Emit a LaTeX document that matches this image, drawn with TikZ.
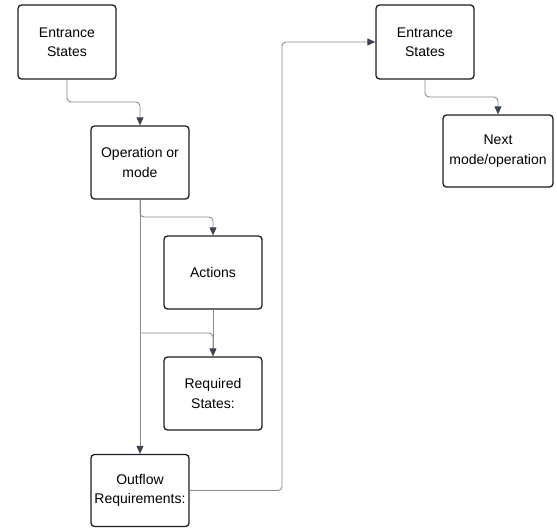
\documentclass[tikz,border=0pt]{standalone}
\usepackage{fontspec}
\setmainfont{Liberation Sans}
\usetikzlibrary{arrows.meta}
\definecolor{boxline}{HTML}{1E1E1E}
\definecolor{wire}{HTML}{8C8C8C}
\definecolor{tipcol}{HTML}{3B4250}
\tikzset{
  stepbox/.style={draw=boxline, line width=1.3pt, rounded corners=3.5pt,
    align=center, inner sep=0pt, fill=white,
    font=\fontsize{14}{19.5}\selectfont},
  wirearrow/.style={draw=wire, line width=0.9pt, rounded corners=4pt,
    -{Triangle[length=8pt,width=7pt,color=tipcol]}},
  wireplain/.style={draw=wire, line width=0.9pt, rounded corners=4pt}
}
\begin{document}
\begin{tikzpicture}[x=1pt,y=-1pt]
\useasboundingbox (0,0) rectangle (557,528);

% boxes
\node[stepbox, minimum width=98pt, minimum height=74pt] (es1) at (67,42) {Entrance\\States};
\node[stepbox, minimum width=98pt, minimum height=73pt] (op) at (140,162.5) {Operation or\\mode};
\node[stepbox, minimum width=98pt, minimum height=73pt] (act) at (213,272.5) {Actions};
\node[stepbox, minimum width=98pt, minimum height=73pt] (req) at (213,393.5) {Required\\States:};
\node[stepbox, minimum width=98pt, minimum height=72pt] (out) at (140,490.5) {Outflow\\Requirements:};
\node[stepbox, minimum width=98pt, minimum height=74pt] (es2) at (425,42) {Entrance\\States};
\node[stepbox, minimum width=110pt, minimum height=72pt] (nx) at (498,151) {Next\\mode/operation};

% junction on the trunk below the operation box
\coordinate (j2) at (140,333);

% connectors
\draw[wirearrow] (es1.south) -- (67,102) -| (op.north);
\draw[wirearrow] (op.south) -- (140,217) -| (act.north);
\draw[wirearrow] (op.south) -- (out.north);
\draw[wireplain] (j2) -| (req.north);
\draw[wirearrow] (act.south) -- (req.north);
\draw[wirearrow] (out.east) -- (282,490.5) |- (es2.west);
\draw[wirearrow] (es2.south) -- (425,97) -| (nx.north);
\end{tikzpicture}
\end{document}
